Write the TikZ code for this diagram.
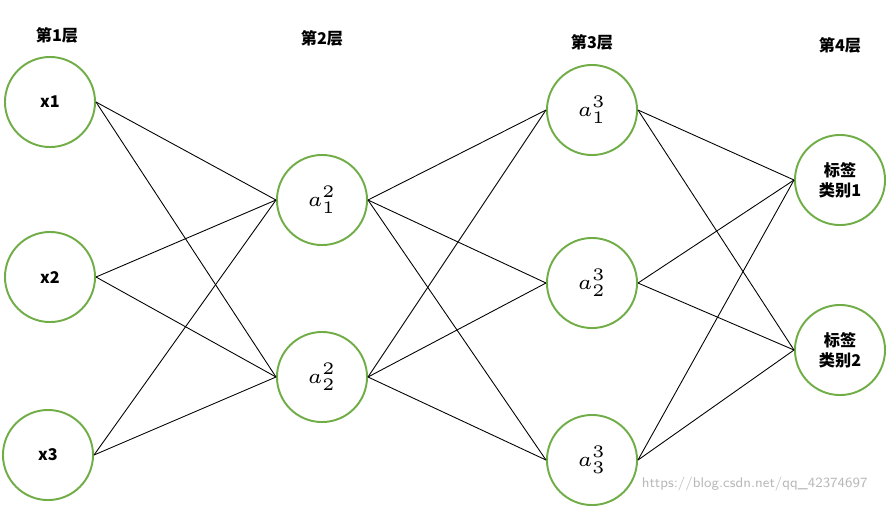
\documentclass[tikz,border=0pt]{standalone}
\usepackage{amsmath}
\usepackage{fontspec}
\newfontfamily\cjk{Noto Sans CJK SC}
\usepackage{tikz}
\definecolor{nodegreen}{RGB}{112,173,71}
\tikzset{
  neuron/.style={circle, draw=nodegreen, line width=0.55pt, minimum size=0.9cm, inner sep=0pt, font=\cjk\bfseries\fontsize{4.6}{5.8}\selectfont},
  mathneuron/.style={neuron, font=\fontsize{6.3}{7}\selectfont},
  layerlabel/.style={font=\cjk\bfseries\fontsize{4.6}{5}\selectfont},
  link/.style={black, line width=0.25pt}
}
\begin{document}
\begin{tikzpicture}[x=0.01cm, y=-0.01cm]
    \useasboundingbox (0,0) rectangle (888,511);

    % Layer titles
    \node[layerlabel] (t1) at (57,35) {第1层};
    \node[layerlabel] (t2) at (322,38) {第2层};
    \node[layerlabel] (t3) at (592,42) {第3层};
    \node[layerlabel] (t4) at (840,45) {第4层};

    % Input layer
    \node[neuron] (x1) at (50,102) {x1};
    \node[neuron] (x2) at (50,277) {x2};
    \node[neuron] (x3) at (48,455) {x3};

    % Hidden layer 1
    \node[mathneuron] (h1) at (322,200) {$a_1^2$};
    \node[mathneuron] (h2) at (322,377) {$a_2^2$};

    % Hidden layer 2
    \node[mathneuron] (g1) at (592,110) {$a_1^3$};
    \node[mathneuron] (g2) at (592,283) {$a_2^3$};
    \node[mathneuron] (g3) at (592,460) {$a_3^3$};

    % Output layer
    \node[neuron, align=center] (y1) at (840,180) {标签\\类别1};
    \node[neuron, align=center] (y2) at (840,350) {标签\\类别2};

    % Connections
    \foreach \i in {x1,x2,x3}
      \foreach \j in {h1,h2}
        \draw[link] (\i.east) -- (\j.west);
    \foreach \i in {h1,h2}
      \foreach \j in {g1,g2,g3}
        \draw[link] (\i.east) -- (\j.west);
    \foreach \i in {g1,g2,g3}
      \foreach \j in {y1,y2}
        \draw[link] (\i.east) -- (\j.west);

    % Watermark
    \node[text=gray!55, font=\sffamily\fontsize{4}{5}\selectfont, anchor=south east] (wm) at (880,503) {https://blog.csdn.net/qq\_42374697};
\end{tikzpicture}
\end{document}
